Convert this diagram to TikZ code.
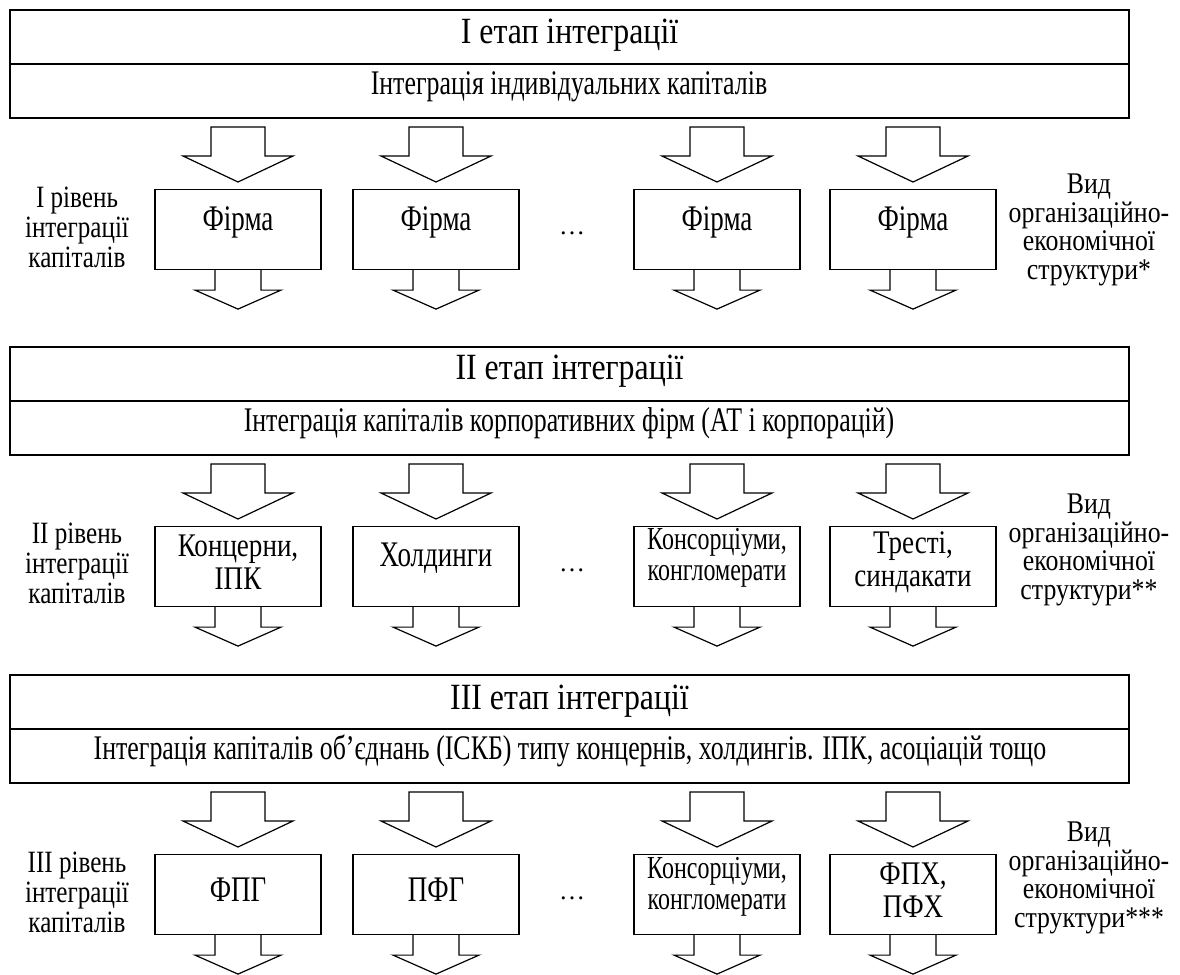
\documentclass[tikz,border=0pt]{standalone}
\usepackage{fontspec}
\setmainfont{Liberation Serif}
\newfontfamily\tallserif[FakeStretch=0.75]{Liberation Serif}
\newfontfamily\sideserif[FakeStretch=0.81]{Liberation Serif}
\newfontfamily\pairserif[FakeStretch=0.82]{Liberation Serif}
\newfontfamily\rightserif[FakeStretch=0.86]{Liberation Serif}
\newfontfamily\titleserif[FakeStretch=0.86]{Liberation Serif}
\begin{document}
\begin{tikzpicture}[x=1pt,y=-1pt,
  mainbox/.style={draw, line width=2pt, minimum width=1119pt, minimum height=108pt, inner sep=0pt},
  sepline/.style={line width=1.3pt},
  blockarrow/.style={draw, line width=1.2pt, fill=white, line join=miter},
  itembox/.style={draw, line width=1.2pt, minimum width=166pt, minimum height=80pt, inner sep=0pt},
  title/.style={font=\titleserif\fontsize{37}{40}\selectfont, inner sep=0pt},
  subtitle/.style={font=\tallserif\fontsize{34.5}{38}\selectfont, inner sep=0pt},
  item/.style={font=\tallserif\fontsize{36}{32}\selectfont, align=center, inner sep=0pt},
  pairitem/.style={font=\pairserif\fontsize{33}{33}\selectfont, align=center, inner sep=0pt},
  smallitem/.style={font=\tallserif\fontsize{32}{31}\selectfont, align=center, inner sep=0pt},
  leftlab/.style={font=\sideserif\fontsize{31}{30}\selectfont, align=center, inner sep=0pt},
  rightlab/.style={font=\rightserif\fontsize{30}{28.5}\selectfont, align=center, inner sep=0pt},
  dots/.style={font=\fontsize{26}{30}\selectfont, inner sep=0pt}
]
\useasboundingbox (0,0) rectangle (1180,974);

\foreach \t [count=\s] in {10,347,675} {
  \node[mainbox] (stage\s) at (569.5,\t+54) {};
  \draw[sepline] (stage\s.west) -- (stage\s.east);
  \foreach \c [count=\k] in {238,436,717,913} {
    \draw[blockarrow] (\c-27,\t+117) -- (\c+27,\t+117) -- (\c+27,\t+146) -- (\c+55,\t+146)
      -- (\c,\t+172) -- (\c-55,\t+146) -- (\c-27,\t+146) -- cycle;
    \node[itembox] (box\s\k) at (\c,\t+219.5) {};
    \draw[blockarrow] (box\s\k.south) ++(-23,0) coordinate (bl\s\k) -- ++(0,20) -- ++(-20,0)
      -- ++(43,19) -- ++(43,-19) -- ++(-20,0) -- ++(0,-20);
  }
  \node[dots] (dots\s) at (572,\t+223) {\dots};
}

% Stage I
\node[title] (t1) at (569.5,35) {І етап інтеграції};
\node[subtitle] (s1) at (569,87) {Інтеграція індивідуальних капіталів};
\node[item] (l11) at (238,222) {Фірма};
\node[item] (l12) at (436,222) {Фірма};
\node[item] (l13) at (717,222) {Фірма};
\node[item] (l14) at (913,222) {Фірма};
\node[leftlab] (left1) at (77,227) {І рівень\\інтеграції\\капіталів};
\node[rightlab] (right1) at (1089,230) {Вид\\організаційно-\\економічної\\структури*};

% Stage II
\node[title] (t2) at (569.5,371) {ІІ етап інтеграції};
\node[subtitle] (s2) at (569,423) {Інтеграція капіталів корпоративних фірм (АТ і корпорацій)};
\node[pairitem] (l21) at (238,562) {Концерни,\\ІПК};
\node[item] (l22) at (436,558) {Холдинги};
\node[smallitem] (l23) at (717,558) {Консорціуми,\\конгломерати};
\node[pairitem] (l24) at (913,562) {Тресті,\\синдакати};
\node[leftlab] (left2) at (77,563) {ІІ рівень\\інтеграції\\капіталів};
\node[rightlab] (right2) at (1089,550) {Вид\\організаційно-\\економічної\\структури**};

% Stage III
\node[title] (t3) at (569.5,701) {ІІІ етап інтеграції};
\node[subtitle] (s3) at (570,751) {Інтеграція капіталів об’єднань (ІСКБ) типу концернів, холдингів. ІПК, асоціацій тощо};
\node[item] (l31) at (238,890) {ФПГ};
\node[item] (l32) at (436,890) {ПФГ};
\node[smallitem] (l33) at (717,887) {Консорціуми,\\конгломерати};
\node[pairitem] (l34) at (913,890) {ФПХ,\\ПФХ};
\node[leftlab] (left3) at (77,892) {ІІІ рівень\\інтеграції\\капіталів};
\node[rightlab] (right3) at (1089,878) {Вид\\організаційно-\\економічної\\структури***};
\end{tikzpicture}
\end{document}
